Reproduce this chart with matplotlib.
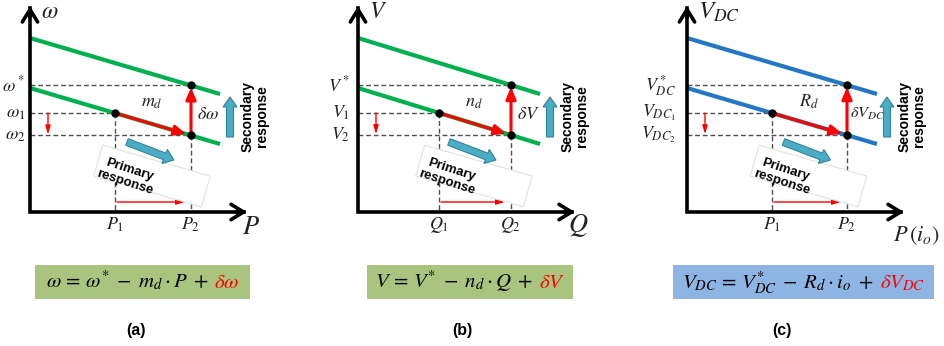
import matplotlib.pyplot as plt
from matplotlib.patches import Rectangle, FancyArrow

plt.rcParams['mathtext.fontset'] = 'stix'
plt.rcParams['font.family'] = ['Liberation Sans', 'DejaVu Sans']

# 3つのドループ特性: (a) P-ω, (b) Q-V, (c) DC
panel_tags = ['(a)', '(b)', '(c)']
y_names = [r'$\omega$', r'$V$', r'$V_{DC}$']
x_names = [r'$P$', r'$Q$', r'$P\,(i_o)$']
ref_labels = [r'$\omega^*$', r'$V^*$', r'$V^*_{DC}$']
lev1_labels = [r'$\omega_1$', r'$V_1$', r'$V_{DC_1}$']
lev2_labels = [r'$\omega_2$', r'$V_2$', r'$V_{DC_2}$']
x1_labels = [r'$P_1$', r'$Q_1$', r'$P_1$']
x2_labels = [r'$P_2$', r'$Q_2$', r'$P_2$']
slope_labels = [r'$m_d$', r'$n_d$', r'$R_d$']
delta_labels = [r'$\delta\omega$', r'$\delta V$', r'$\delta V_{DC}$']
eq_black = [r'$\omega\,=\,\omega^{*}\;-\;m_d\cdot P\;+$',
            r'$V\,=\,V^{*}\;-\;n_d\cdot Q\;+$',
            r'$V_{DC}\,=\,V^{*}_{DC}\;-\;R_d\cdot i_o\;+$']
eq_red = [r'$\delta\omega$', r'$\delta V$', r'$\delta V_{DC}$']

# 特性線の値 (図の単位)
x1_vals = [85, 81, 85]
x2_vals = [161, 153, 160]
x_end = [190, 182, 190]
upper_y0 = [174, 174, 174]
lower_y0 = [124, 124, 124]
drop = [56, 56, 56]

line_colors = ['#00B050', '#00B050', '#2477C2']
eq_colors = ['#A9C47F', '#A9C47F', '#8EB4E3']
teal = '#4BACC6'

W, H = 944, 346
fig = plt.figure(figsize=(W / 100, H / 100), dpi=100)

# レイアウト (ピクセル)
ax_left = [30, 358, 687]
ylab_off = [-5, -8, -11]
yname_size = [17, 17, 18]
xname_x = [221, 220, 206]
xname_ha = ['center', 'center', 'left']
xname_y = [-15, -14, -24]
xname_size = [19, 19, 16]
delta_size = [13, 13, 11.5]
delta_dx = [6, 6, 3]
eq_box = [(5, 220), (9, 215), (-14, 247)]
tag_x = [106, 104, 95]

axes = []
eq_texts = []
for i in range(3):
    ax = fig.add_axes([ax_left[i] / W, (H - 212) / H, 250 / W, 207 / H])
    ax.set_xlim(0, 250)
    ax.set_ylim(0, 207)
    ax.axis('off')
    axes.append(ax)

    k = drop[i] / x_end[i]
    x1, x2 = x1_vals[i], x2_vals[i]
    y_ref = upper_y0[i] - k * x2
    y1 = lower_y0[i] - k * x1
    y2 = lower_y0[i] - k * x2

    # 軸
    ax.plot([0, 0, 214], [204, 0, 0], color='black', lw=2.6,
            solid_joinstyle='miter', clip_on=False, zorder=5)
    ax.annotate('', xy=(0, 206), xytext=(0, 195),
                arrowprops=dict(arrowstyle='->,head_length=0.9,head_width=0.55',
                                lw=2.6, color='black', shrinkA=0, shrinkB=0), zorder=5)
    ax.annotate('', xy=(217, 0), xytext=(205, 0),
                arrowprops=dict(arrowstyle='->,head_length=0.9,head_width=0.55',
                                lw=2.6, color='black', shrinkA=0, shrinkB=0), zorder=5)

    # ドループ特性線
    for y0 in (upper_y0[i], lower_y0[i]):
        ax.plot([0, x_end[i]], [y0, y0 - drop[i]], color=line_colors[i],
                lw=3, solid_capstyle='butt', zorder=3)

    # 破線
    dash = dict(color='#505050', lw=1.0, ls=(0, (3.5, 2)), zorder=2)
    ax.plot([0, x2], [y_ref, y_ref], **dash)
    ax.plot([0, x1], [y1, y1], **dash)
    ax.plot([0, x2], [y2, y2], **dash)
    ax.plot([x1, x1], [y1, 0], **dash)
    ax.plot([x2, x2], [y2, 0], **dash)

    # 一次応答の枠
    mid = (x1 + x2) / 2 - 1
    ax.add_patch(Rectangle((mid - 56, 36 - 16), 112, 32, angle=-16,
                           rotation_point='center', fc='white', ec='#e2e2e2',
                           lw=0.8, zorder=4, clip_on=False))
    ax.text(mid - 25, 36, 'Primary\nresponse', rotation=-18, ha='center',
            va='center', fontsize=9.5, fontweight='bold', linespacing=1.15,
            rotation_mode='anchor', zorder=6)
    ax.add_patch(FancyArrow(mid - 25, 70, 47, -18, width=7, head_width=15,
                            head_length=10, length_includes_head=True,
                            fc=teal, ec='#31849B', lw=0.8, zorder=6))

    # 二次応答
    ax.add_patch(FancyArrow(x_end[i] + 10, 75, 0, 40, width=7, head_width=14,
                            head_length=10, length_includes_head=True,
                            fc=teal, ec='#31849B', lw=0.8, zorder=6, clip_on=False))
    ax.text(x_end[i] + 35, 96, 'Secondary\nresponse', rotation=90, ha='center',
            va='center', fontsize=10, fontweight='bold', linespacing=1.05)

    # 赤矢印
    ax.annotate('', xy=(x2 - 2, y2 + 0.6), xytext=(x1, y1),
                arrowprops=dict(arrowstyle='-|>,head_length=0.7,head_width=0.3',
                                lw=2.2, color='red', shrinkA=0, shrinkB=2), zorder=6)
    ax.annotate('', xy=(x2, y_ref - 2), xytext=(x2, y2),
                arrowprops=dict(arrowstyle='-|>,head_length=0.7,head_width=0.3',
                                lw=2.2, color='red', shrinkA=0, shrinkB=0), zorder=6)
    ax.annotate('', xy=(18, y2 + 1), xytext=(18, y1),
                arrowprops=dict(arrowstyle='-|>,head_length=0.5,head_width=0.15',
                                lw=1.0, color='red', shrinkA=0, shrinkB=0))
    ax.annotate('', xy=(x2 - 6, 10), xytext=(x1 + 2, 10),
                arrowprops=dict(arrowstyle='-|>,head_length=0.5,head_width=0.15',
                                lw=1.0, color='red', shrinkA=0, shrinkB=0))

    # 動作点
    ax.plot([x2, x1, x2], [y_ref, y1, y2], 'o', color='black', ms=5, zorder=7)

    # ラベル
    ax.text(11, 200, y_names[i], fontsize=yname_size[i], ha='left', va='center',
            color='#222222')
    ax.text(xname_x[i], xname_y[i], x_names[i], fontsize=xname_size[i],
            ha=xname_ha[i], va='center', color='#222222')
    for yy, lab in ((y_ref, ref_labels[i]), (y1, lev1_labels[i]), (y2, lev2_labels[i])):
        ax.text(ylab_off[i], yy, lab, fontsize=13, ha='right', va='center', color='#222222')
    ax.text(x1, -13, x1_labels[i], fontsize=13, ha='center', va='center', color='#222222')
    ax.text(x2, -13, x2_labels[i], fontsize=13, ha='center', va='center', color='#222222')
    ax.text((x1 + x2) / 2 - 1, y1 + 2, slope_labels[i], fontsize=13,
            ha='center', va='bottom', color='#222222')
    ax.text(x2 + delta_dx[i], (y_ref + y2) / 2 - 4, delta_labels[i],
            fontsize=delta_size[i], ha='left', va='center', color='#222222')

    # 式
    bx0, bx1 = eq_box[i]
    ax.add_patch(Rectangle((bx0, -87), bx1 - bx0, 34, fc=eq_colors[i], ec='none',
                           clip_on=False, zorder=1))
    tb = ax.text(0, -76, eq_black[i], fontsize=15, ha='left', va='baseline')
    tr = ax.text(0, -76, eq_red[i], fontsize=15, ha='left', va='baseline', color='red')
    eq_texts.append((tb, tr, (bx0 + bx1) / 2))

    ax.text(tag_x[i], -119, panel_tags[i], fontsize=11.5, fontweight='bold',
            ha='center', va='center')

# 式を枠の中央に配置 (赤い項の前に隙間)
gap = 6
fig.canvas.draw()
r = fig.canvas.get_renderer()
for ax, (tb, tr, cx) in zip(axes, eq_texts):
    wb = tb.get_window_extent(r).width
    wr = tr.get_window_extent(r).width
    cx_disp = ax.transData.transform((cx, 0))[0]
    start = cx_disp - (wb + gap + wr) / 2
    inv = ax.transData.inverted()
    tb.set_x(inv.transform((start, 0))[0])
    tr.set_x(inv.transform((start + wb + gap, 0))[0])

fig.savefig('out.png', dpi=100)
plt.close()
